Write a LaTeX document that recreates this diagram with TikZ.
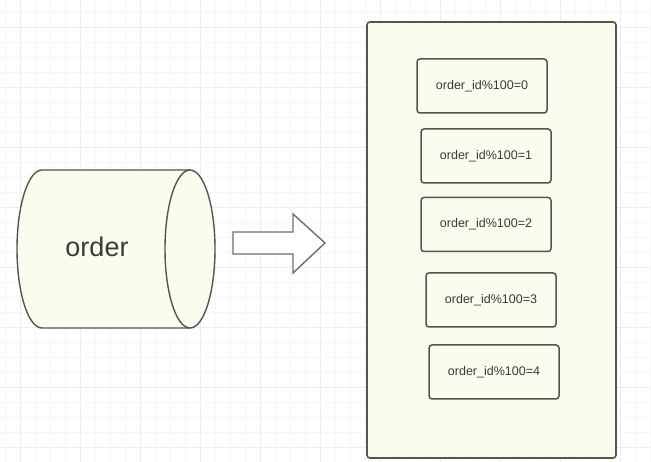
\documentclass[tikz,border=0pt]{standalone}
\usepackage{fontspec}
\setmainfont{Liberation Sans}
\definecolor{shapefill}{HTML}{FBFBEE}
\definecolor{edge}{HTML}{55554F}
\definecolor{txt}{HTML}{3A3A3A}
\definecolor{gridminor}{HTML}{F7F7F7}
\definecolor{gridmajor}{HTML}{EEEEEE}
\begin{document}
\begin{tikzpicture}[x=1pt,y=1pt,
  shard/.style={draw=edge,line width=1.5pt,fill=shapefill,rounded corners=3pt,
    minimum width=130pt,minimum height=54pt,inner sep=0pt,
    text=txt,font=\fontsize{12.5}{14}\selectfont},
  outline/.style={draw=edge,line width=1.4pt}]
\useasboundingbox (0,0) rectangle (651,-462);
\fill[white] (0,0) rectangle (651,-462);
% background grid
\foreach \i in {0,...,44} {
  \draw[gridminor,line width=0.6pt] ({5+15*\i},0) -- ({5+15*\i},-462);
}
\foreach \i in {0,...,31} {
  \draw[gridminor,line width=0.6pt] (0,{-12-15*\i}) -- (651,{-12-15*\i});
}
\foreach \i in {0,...,10} {
  \draw[gridmajor,line width=0.8pt] ({20+60*\i},0) -- ({20+60*\i},-462);
}
\foreach \i in {0,...,7} {
  \draw[gridmajor,line width=0.8pt] (0,{-27-60*\i}) -- (651,{-27-60*\i});
}
% cylinder
\draw[outline,fill=shapefill] (42,-170) -- (190,-170) -- (190,-328) -- (42,-328)
  arc[start angle=270,end angle=90,x radius=25,y radius=79] -- cycle;
\draw[outline,fill=shapefill] (190,-249) ellipse [x radius=25,y radius=79];
\node[text=txt,font=\fontsize{27}{30}\selectfont] (order) at (97,-247) {order};
% block arrow
\draw[draw=edge!85,line width=1.4pt,fill=white,line join=miter]
  (233,-232) -- (293,-232) -- (293,-214) -- (325,-243) -- (293,-273) -- (293,-254) -- (233,-254) -- cycle;
% container
\node[draw=edge,line width=1.6pt,fill=shapefill,rounded corners=3pt,
  minimum width=249pt,minimum height=436pt] (db) at (491.5,-240) {};
% shards
\node[shard] (s0) at (482,-86) {order\_id\%100=0};
\node[shard] (s1) at (486,-156) {order\_id\%100=1};
\node[shard] (s2) at (486,-224.5) {order\_id\%100=2};
\node[shard] (s3) at (491,-300) {order\_id\%100=3};
\node[shard] (s4) at (494,-372) {order\_id\%100=4};
\end{tikzpicture}
\end{document}
